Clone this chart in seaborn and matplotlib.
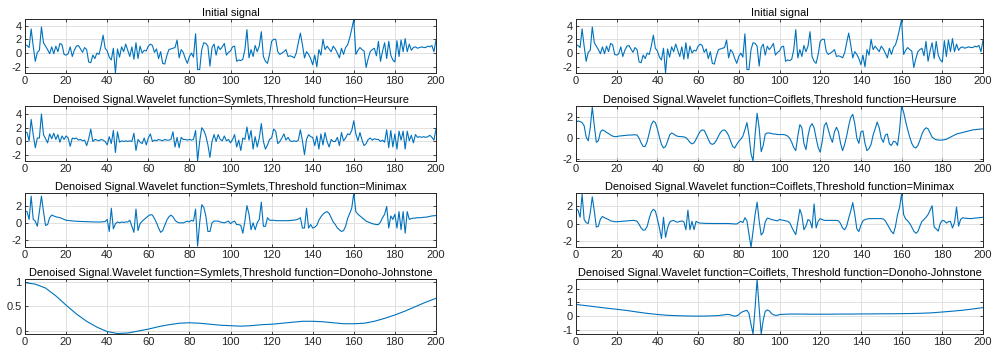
import numpy as np
import pandas as pd
import seaborn as sns
import matplotlib
matplotlib.use("Agg")
import matplotlib.pyplot as plt
from matplotlib.ticker import FuncFormatter

# ---- data -------------------------------------------------------------
n = np.arange(201)

initial_signal = [
    1.2, 1.1, 0.8, 3.5, 1.0, -1.2, 0.1, 0.4, 3.8, 1.5,
    1.0, 0.5, -0.1, 0.9, -0.1, 1.0, 0.2, 1.4, 1.2, -0.2,
    -0.3, -0.1, 0.9, -0.5, 0.4, 1.0, 1.1, 0.6, 0.1, 0.8,
    0.5, -1.3, -1.4, -0.3, -0.8, 0.0, -0.2, 1.0, 2.6, 0.7,
    0.3, -0.6, -1.0, 0.7, -2.9, 0.6, -0.6, 0.9, 0.2, 1.3,
    0.4, -0.5, 0.9, -0.9, 1.5, -0.8, 1.0, 0.0, 0.4, 0.3,
    1.0, 1.3, 1.1, 0.1, 0.6, -0.8, 0.2, -1.5, -1.6, -0.4,
    0.5, 0.6, 0.7, 0.8, 1.9, -0.7, 0.5, 0.1, -0.8, -1.5,
    -0.5, 0.0, -0.6, 2.8, -2.4, -2.4, 0.5, 1.5, 1.4, 1.0,
    -1.9, 0.8, 1.3, -0.3, 1.0, 0.5, 0.9, 1.4, -0.3, 0.1,
    0.3, 0.9, 1.0, -1.2, -1.0, -1.1, -0.9, 0.5, 3.4, -0.7,
    0.5, -0.5, 1.1, 0.2, 1.0, 3.1, -0.5, -1.2, -1.5, -0.2,
    1.7, 2.0, 2.0, 0.2, -0.2, 0.0, 0.2, 0.5, -0.5, -0.4,
    -0.5, -0.7, 0.0, 1.5, 2.9, 1.2, -0.7, 0.2, -0.2, -0.8,
    -1.7, -0.3, -2.0, 0.5, -0.3, 2.0, 0.5, 1.0, 0.6, 0.2,
    1.0, 0.6, 0.0, -0.7, 0.7, -0.2, 0.8, 1.2, 2.2, 3.5,
    4.9, -0.2, 0.4, 0.8, 0.5, 0.3, -2.1, -0.8, 0.2, 0.5,
    0.7, -0.4, 1.7, -1.2, 0.3, 1.5, -0.8, 1.7, -0.3, -1.0,
    -1.3, 1.8, -0.5, 1.9, 0.2, 2.1, 0.2, 1.3, 0.4, 0.8,
    0.9, 0.7, 0.8, 0.9, 0.8, 0.8, 1.0, 0.9, 1.1, 0.2,
    1.9,
]

sym_heursure = [
    1.4, 1.3, 0.1, 3.2, 1.0, -0.9, 0.5, 0.5, 4.0, 1.0,
    0.4, -0.2, 1.1, 0.4, 1.2, 0.3, 1.0, -0.1, 0.8, 0.3,
    0.8, 0.5, -0.7, 0.5, 0.4, 0.5, 0.2, 0.3, 0.1, 0.2,
    -0.6, 0.4, 1.8, 0.0, 0.3, 0.2, 0.1, 0.3, 0.2, 0.0,
    -0.5, 0.7, -0.3, 1.6, -1.6, 1.4, -0.1, 0.1, 0.0, 0.1,
    0.0, 0.1, 0.0, 1.2, -1.3, 0.3, -0.1, -0.3, 0.5, -0.5,
    0.5, 1.1, 0.0, 0.2, 0.1, 0.3, 0.2, 0.1, 0.3, 0.2,
    0.2, 0.3, 1.4, -0.8, 0.6, -0.9, 0.6, 0.3, 0.3, 0.2,
    0.3, 0.2, 0.3, 1.6, -2.8, 0.0, 2.0, 1.6, 0.8, -0.5,
    -2.3, 0.0, 1.0, 0.0, 1.0, 0.3, 0.1, 0.8, 0.1, 0.3,
    -0.2, 0.3, 1.0, -0.8, 0.2, -1.3, 0.5, 0.3, 2.1, 0.2,
    1.6, -1.1, 0.7, -0.8, 0.5, 2.6, 0.0, -1.1, -0.5, 0.3,
    0.5, 1.8, 1.5, -0.3, 0.0, 0.5, 1.1, 0.2, 0.6, 0.1,
    0.0, 0.1, 0.0, 0.2, 1.7, 0.1, -1.9, 0.3, 1.0, 0.7,
    0.6, -0.6, 0.8, -1.1, 1.1, -0.5, 1.3, 0.0, -0.8, 0.3,
    0.0, 0.0, 0.6, -0.6, 1.3, 0.1, 0.5, 1.1, 1.0, 1.6,
    3.0, 1.1, 0.1, 1.3, 0.2, -0.6, -0.3, 0.3, 0.5, 0.2,
    0.4, 0.3, 0.3, 0.0, 0.2, -0.1, 1.7, -0.9, 1.6, -0.8,
    1.1, -1.1, 1.5, 0.2, 1.5, -1.1, 1.5, 0.1, 0.9, -0.2,
    1.0, 0.6, 0.7, 0.6, 0.7, 0.6, 0.7, 0.9, 0.6, 0.2,
    1.8,
]

sym_minimax = [
    1.35, 1.3, 0.4, 3.1, 0.4, 0.2, -0.4, 1.3, 3.1, 1.3,
    -0.3, -0.2, 0.6, 0.9, 0.8, 0.7, 0.65, 0.6, 0.5, 0.4,
    0.3, 0.28, 0.25, 0.22, 0.2, 0.18, 0.17, 0.16, 0.15, 0.14,
    0.13, 0.12, 0.12, 0.11, 0.1, 0.1, 0.1, 0.1, 0.12, 0.15,
    0.4, -1.0, 1.7, -0.7, -0.1, 0.1, 0.0, 0.1, 0.05, 0.1,
    0.1, 0.3, -0.4, -1.1, 1.6, -0.9, -0.1, 0.2, 0.4, 0.6,
    0.8, 0.95, 0.9, 0.5, 0.0, -0.6, -1.1, -0.9, -0.3, 0.3,
    0.7, 0.9, 0.7, 0.3, 0.1, 0.0, 0.0, 0.0, 0.1, 0.2,
    0.1, 0.3, 0.2, 1.6, -2.7, 0.0, 2.1, 1.8, 0.8, -1.0,
    -1.0, 0.0, 0.2, 0.2, 0.2, 0.1, 0.05, 0.0, 0.1, 0.2,
    -0.1, 0.1, 0.2, -0.2, -0.2, -0.3, -1.2, 0.2, 2.0, 1.0,
    -0.8, 0.0, -0.8, 0.0, 0.4, 2.4, -0.4, -0.4, 0.6, 0.3,
    0.3, 0.3, 0.25, 0.25, 0.25, 0.25, 0.25, 0.25, 0.25, 0.27,
    0.3, 0.32, 0.35, 0.45, 0.6, -0.6, -0.6, 1.7, -0.6, -0.2,
    -0.6, -0.5, -0.3, 0.3, 0.7, 1.0, 1.2, 1.3, 1.1, 0.6,
    0.1, -0.2, -0.6, -0.8, -1.0, -0.9, -0.4, 0.5, 1.1, 1.7,
    3.45, 1.3, 1.0, 0.8, 0.6, 0.4, 0.2, 0.1, 0.0, -0.1,
    -0.15, -0.2, -0.2, 0.1, 0.6, 1.0, 1.9, -0.6, 0.8, 0.4,
    1.0, -0.6, 1.3, -0.8, 1.3, -1.2, 1.3, 0.4, 0.5, 0.55,
    0.55, 0.6, 0.6, 0.6, 0.65, 0.65, 0.7, 0.75, 0.8, 0.82,
    0.85,
]

dj_x_sym = list(range(0, 201, 5))
sym_donoho = [
    0.98, 0.95, 0.87, 0.71, 0.52, 0.34, 0.19, 0.07, -0.02, -0.06,
    -0.05, -0.01, 0.03, 0.08, 0.12, 0.15, 0.16, 0.15, 0.13, 0.11,
    0.10, 0.09, 0.10, 0.12, 0.13, 0.15, 0.17, 0.19, 0.19, 0.18,
    0.16, 0.14, 0.14, 0.15, 0.19, 0.25, 0.32, 0.40, 0.49, 0.58,
    0.66,
]

coif_heursure = [
    1.55, 1.65, 1.6, 1.5, 1.2, 0.1, -0.25, 1.0, 3.0, 1.2,
    -0.4, -0.25, 0.6, 0.8, 0.7, 0.55, 0.45, 0.3, 0.2, 0.15,
    0.15, 0.2, 0.22, 0.25, 0.27, 0.28, 0.3, 0.3, 0.32, 0.33,
    0.3, 0.0, -0.45, -0.8, -0.8, -0.3, 0.5, 1.3, 1.65, 1.5,
    0.9, 0.1, -0.6, -0.95, -0.8, -0.3, 0.3, 0.5, 0.4, 0.25,
    0.18, 0.15, 0.15, 0.12, 0.05, -0.15, -0.4, -0.55, -0.45, -0.1,
    0.3, 0.65, 0.8, 0.75, 0.35, -0.1, -0.5, -0.6, -0.5, -0.2,
    0.2, 0.55, 0.75, 0.8, 0.6, 0.25, -0.3, -0.8, -0.95, -0.6,
    -0.3, -0.1, 0.2, 0.8, 1.5, 0.3, -1.5, -2.2, 0.3, 2.4,
    1.0, -1.3, -0.7, 0.4, 0.5, 0.5, 0.45, 0.4, 0.4, 0.35,
    0.35, 0.35, 0.35, 0.3, 0.2, 0.0, -0.4, -0.9, -1.2, 0.2,
    1.3, 1.0, -0.5, -1.1, 0.2, 1.1, 1.4, 1.0, 0.0, -0.9,
    -1.35, -0.3, 1.2, 1.5, 0.8, 0.1, -0.4, 0.6, 1.05, 0.6,
    -0.5, -1.2, -0.6, 0.2, 1.2, 2.0, 2.3, 1.4, 0.0, -0.5,
    0.6, 0.7, -0.5, -1.2, -1.0, -0.6, 0.3, 0.9, 1.55, 1.0,
    0.0, -0.4, 0.3, 0.4, -0.55, -0.7, -0.3, -0.35, -0.7, 0.8,
    3.1, 2.5, 1.6, 0.8, 0.1, -0.5, -0.85, -0.95, -0.7, -0.2,
    0.4, 0.8, 1.0, 0.9, 0.5, 0.1, -0.05, -0.15, -0.18, -0.2,
    -0.18, -0.15, -0.1, 0.0, 0.1, 0.2, 0.3, 0.4, 0.45, 0.5,
    0.55, 0.6, 0.65, 0.7, 0.75, 0.8, 0.82, 0.85, 0.87, 0.88,
    0.9,
]

coif_minimax = [
    1.7, 1.5, 0.7, 3.3, 0.45, 0.1, 0.0, 1.2, 3.0, 1.4,
    -0.4, -0.3, 0.5, 0.8, 0.65, 0.55, 0.45, 0.3, 0.25, 0.2,
    0.2, 0.22, 0.24, 0.26, 0.28, 0.3, 0.32, 0.34, 0.35, 0.33,
    0.25, -0.1, -0.5, -0.75, -0.72, -0.3, 0.6, 1.3, 1.6, 1.4,
    0.5, -0.5, -1.7, 0.7, -1.55, -0.5, 0.15, 0.3, 0.35, 0.2,
    0.15, 0.25, 0.28, 0.2, -0.7, 1.5, -0.7, 0.25, -0.7, 0.25,
    0.1, 0.05, 0.03, 0.02, 0.02, 0.01, 0.0, 0.0, 0.0, 0.0,
    0.0, 0.0, 0.0, 0.0, 0.0, 0.0, -0.02, -0.05, -0.05, -0.05,
    0.1, 0.25, 0.1, 0.65, 0.3, -1.2, -2.7, -0.8, 1.0, 2.4,
    0.3, -1.3, -1.0, 0.2, 0.6, 0.55, 0.45, 0.4, 0.35, 0.3,
    0.45, 0.4, 0.35, 0.3, 0.25, 0.1, -0.4, -0.85, -1.25, 0.2,
    1.6, 0.9, -0.7, -0.3, 0.45, 0.3, -0.5, 2.2, -0.5, 0.25,
    0.55, 0.45, 0.35, 0.35, 0.35, 0.35, 0.35, 0.35, 0.35, 0.3,
    0.0, -0.5, -0.7, -0.3, 0.6, 1.4, 2.35, 1.0, -0.6, -0.9,
    -0.2, 0.3, 0.45, 0.5, 0.55, 0.55, 0.55, 0.55, 0.55, 0.55,
    0.55, 0.5, 0.3, -0.1, -0.5, -0.9, -1.15, -0.3, 1.0, 1.8,
    3.35, 1.0, 0.5, 0.3, 0.0, -0.4, -0.85, -1.1, -0.9, -0.3,
    0.25, 0.45, 0.7, 1.0, 1.5, 2.0, -0.4, -0.6, -0.85, 0.0,
    0.35, 0.3, 0.05, 0.2, 0.25, -0.5, 0.1, 1.85, -0.3, 0.45,
    0.65, 0.6, 0.58, 0.56, 0.55, 0.58, 0.6, 0.63, 0.65, 0.68,
    0.7,
]

dj_x_coif = (list(range(0, 70, 5)) + list(range(70, 101))
             + list(range(105, 201, 5)))
coif_donoho = [
    0.85, 0.76, 0.67, 0.58, 0.50, 0.41, 0.30, 0.20, 0.12, 0.06,
    0.03, 0.01, 0.00, 0.01,
    0.04, 0.06, 0.08, 0.10, 0.12, 0.12, 0.09, 0.03, 0.00, 0.03,
    0.10, 0.25, 0.33, 0.38, 0.42, 0.20, -0.60, -1.30, 0.60, 2.70,
    0.60, -1.30, -0.30, 0.35, 0.45, 0.38, 0.20, 0.10, 0.06, 0.06,
    0.12,
    0.15, 0.15, 0.14, 0.14, 0.14, 0.15, 0.15, 0.16, 0.16, 0.17,
    0.17, 0.18, 0.19, 0.21, 0.24, 0.30, 0.36, 0.43, 0.52, 0.62,
]

titles_left = [
    "Initial signal",
    "Denoised Signal.Wavelet function=Symlets,Threshold function=Heursure",
    "Denoised Signal.Wavelet function=Symlets,Threshold function=Minimax",
    "Denoised Signal.Wavelet function=Symlets,Threshold function=Donoho-Johnstone",
]
titles_right = [
    "Initial signal",
    "Denoised Signal.Wavelet function=Coiflets,Threshold function=Heursure",
    "Denoised Signal.Wavelet function=Coiflets,Threshold function=Minimax",
    "Denoised Signal.Wavelet function=Coiflets, Threshold function=Donoho-Johnstone",
]
x_ticks = list(range(0, 201, 20))

# ---- style --------------------------------------------------------------
sns.set_theme(style="ticks")
plt.rcParams["font.family"] = ["Liberation Sans", "DejaVu Sans"]
plt.rcParams["axes.unicode_minus"] = False

LINE_COLOR = "#0072BD"
AX_COLOR = "#262626"

fig = plt.figure(figsize=(10.02, 3.53), dpi=100)
W, H = 1002, 353


def make_axes(x0, x1, y0, y1):
    return fig.add_axes([x0 / W, 1 - y1 / H, (x1 - x0) / W, (y1 - y0) / H])


def panel(ax, x, y, title, ylim, yticks):
    df = pd.DataFrame({"n": x, "v": y})
    sns.lineplot(data=df, x="n", y="v", ax=ax, color=LINE_COLOR,
                 linewidth=0.8, estimator=None, sort=False)
    ax.set_xlim(0, 200)
    ax.set_ylim(*ylim)
    ax.set_xticks(x_ticks)
    ax.set_yticks(yticks)
    ax.yaxis.set_major_formatter(FuncFormatter(lambda v, p: f"{v:g}"))
    ax.set_xlabel("")
    ax.set_ylabel("")
    ax.set_title(title, fontsize=7.9, color="black", pad=2.5)
    ax.grid(True, color="#dcdcdc", linewidth=0.6)
    ax.set_axisbelow(True)
    ax.tick_params(direction="in", length=2.5, width=0.6, colors=AX_COLOR,
                   labelsize=8.0, top=True, right=True, pad=2.5)
    for s in ax.spines.values():
        s.set_color(AX_COLOR)
        s.set_linewidth(0.7)


rows = [(19, 73), (106, 161), (193, 247), (279, 334)]
left_x = (25, 436)
right_x = (576, 983)

axL = [make_axes(left_x[0], left_x[1], r0, r1) for r0, r1 in rows]
axR = [make_axes(right_x[0], right_x[1], r0, r1) for r0, r1 in rows]

panel(axL[0], n, initial_signal, titles_left[0], (-2.9, 4.95), [-2, 0, 2, 4])
panel(axL[1], n, sym_heursure, titles_left[1], (-2.83, 5.15), [-2, 0, 2, 4])
panel(axL[2], n, sym_minimax, titles_left[2], (-2.8, 3.46), [-2, 0, 2])
panel(axL[3], dj_x_sym, sym_donoho, titles_left[3], (-0.07, 1.055), [0, 0.5, 1])

panel(axR[0], n, initial_signal, titles_right[0], (-2.9, 4.95), [-2, 0, 2, 4])
panel(axR[1], n, coif_heursure, titles_right[1], (-2.2, 3.1), [-2, 0, 2])
panel(axR[2], n, coif_minimax, titles_right[2], (-2.64, 3.43), [-2, 0, 2])
panel(axR[3], dj_x_coif, coif_donoho, titles_right[3], (-1.3, 2.7), [-1, 0, 1, 2])

fig.savefig("out.png", dpi=100, facecolor="white")
